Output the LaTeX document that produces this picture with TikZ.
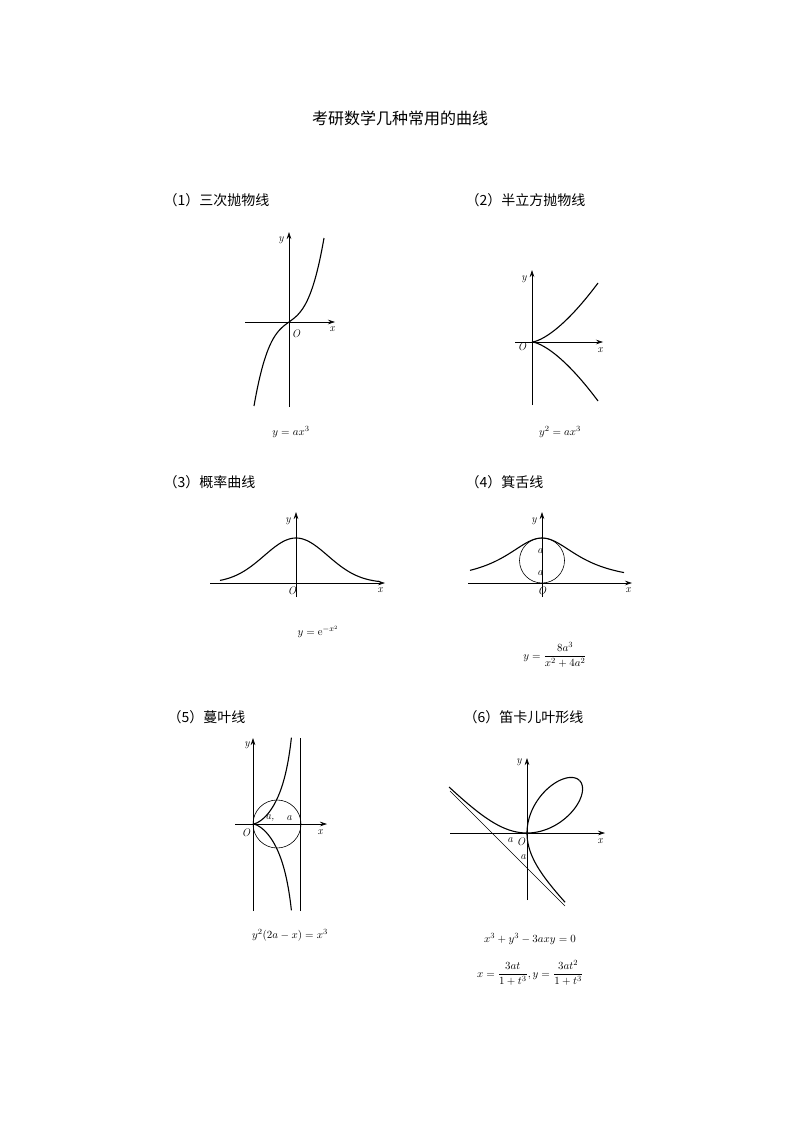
\documentclass[tikz,border=0pt]{standalone}
\usepackage{amsmath}
\usepackage{fontspec}
\newfontfamily\cjk{Noto Sans CJK SC}
\usetikzlibrary{arrows.meta}
\tikzset{
  axis/.style={-{Stealth[length=7pt,width=4.5pt]},line width=0.6pt},
  curve/.style={line width=1.1pt,smooth},
  lbl/.style={font=\fontsize{11}{11}\selectfont\itshape,inner sep=1pt},
  heading/.style={font=\cjk\fontsize{14}{14}\selectfont,anchor=west},
  formula/.style={font=\fontsize{11}{13}\selectfont}
}
\begin{document}
\begin{tikzpicture}[x=1pt,y=-1pt]
\useasboundingbox[fill=white] (0,0) rectangle (800,1131);

\node[font=\cjk\fontsize{16}{16}\selectfont] (title) at (400,118) {考研数学几种常用的曲线};

\node[heading] (h1) at (160,200) {（1）三次抛物线};
\node[heading] (h2) at (462,200) {（2）半立方抛物线};
\node[heading] (h3) at (160,482) {（3）概率曲线};
\node[heading] (h4) at (462,482) {（4）箕舌线};
\node[heading] (h5) at (164,717) {（5）蔓叶线};
\node[heading] (h6) at (460,717) {（6）笛卡儿叶形线};

% (1)
\begin{scope}[shift={(289,322)},yscale=-1]
\draw[axis] (-44,0) -- (46,0);
\draw[axis] (0,-85) -- (0,90);
\draw[curve] plot[domain=-35:35,samples=60] (\x,{84*(0.7*(\x/35)^3+0.3*(\x/35))});
\node[lbl] (y1) at (-8,82) {y};
\node[lbl] (o1) at (7,-12) {O};
\node[lbl] (x1) at (43,-7) {x};
\node[formula] (f1) at (2,-110) {$y=ax^3$};
\end{scope}

% (2)
\begin{scope}[shift={(532,342)},yscale=-1]
\draw[axis] (-17,0) -- (71,0);
\draw[axis] (0,-63) -- (0,72);
\draw[curve] plot[domain=0:66,samples=50] (\x,{59*(\x/66)*sqrt(\x/66)});
\draw[curve] plot[domain=0:66,samples=50] (\x,{-59*(\x/66)*sqrt(\x/66)});
\node[lbl] (y2) at (-8,63) {y};
\node[lbl] (o2) at (-10,-5) {O};
\node[lbl] (x2) at (68,-8) {x};
\node[formula] (f2) at (28,-90) {$y^2=ax^3$};
\end{scope}

% (3)
\begin{scope}[shift={(296,583)},yscale=-1]
\draw[axis] (-86,0) -- (89,0);
\draw[axis] (0,-14) -- (0,71);
\draw[curve] plot[domain=-76:84,samples=80] (\x,{45*exp(-(\x/45)^2)});
\node[lbl] (y3) at (-8,62) {y};
\node[lbl] (o3) at (-4,-8) {O};
\node[lbl] (x3) at (84,-7) {x};
\node[formula] (f3) at (22,-49) {$y=\mathrm{e}^{-x^2}$};
\end{scope}

% (4)
\begin{scope}[shift={(542,583)},yscale=-1]
\draw[axis] (-74,0) -- (90,0);
\draw[axis] (0,-14) -- (0,71);
\draw[line width=0.6pt] (0,22.5) circle (22.5);
\draw[curve] plot[domain=-72:82,samples=80] (\x,{45/((\x/45)^2+1)});
\node[lbl] (a4a) at (-2,32) {a};
\node[lbl] (a4b) at (-2,10) {a};
\node[lbl] (y4) at (-8,62) {y};
\node[lbl] (o4) at (0,-8) {O};
\node[lbl] (x4) at (86,-7) {x};
\node[formula] (f4) at (13,-72) {$y=\dfrac{8a^3}{x^2+4a^2}$};
\end{scope}

% (5)
\begin{scope}[shift={(253,824)},yscale=-1]
\draw[axis] (-18,0) -- (74,0);
\draw[axis] (0,-87) -- (0,86);
\draw[line width=0.6pt] (47,-87) -- (47,86);
\draw[line width=0.6pt] (24,0) circle (24);
\draw[curve] plot[domain=0:1.67,samples=60] ({23*\x},{23*sqrt(\x^3/(2-\x))});
\draw[curve] plot[domain=0:1.67,samples=60] ({23*\x},{-23*sqrt(\x^3/(2-\x))});
\node[lbl] (a5a) at (17,6) {a,};
\node[lbl] (a5b) at (36,6) {a};
\node[lbl] (y5) at (-6,79) {y};
\node[lbl] (o5) at (-7,-9) {O};
\node[lbl] (x5) at (67,-8) {x};
\node[formula] (f5) at (37,-111) {$y^2(2a-x)=x^3$};
\end{scope}

% (6)
\begin{scope}[shift={(527,833)},yscale=-1]
\draw[axis] (-77,0) -- (78,0);
\draw[axis] (0,-67) -- (0,75);
\draw[line width=0.6pt] (-77,42) -- (38,-73);
\draw[curve] plot[domain=0:1,samples=50] ({105*\x/(1+(\x)^3)},{105*(\x)^2/(1+(\x)^3)});
\draw[curve] plot[domain=0:1,samples=50] ({105*(\x)^2/(1+(\x)^3)},{105*\x/(1+(\x)^3)});
\draw[curve] plot[domain=-0.59:0,samples=50] ({105*(\x)/(1+(\x)^3)},{105*(\x)^2/(1+(\x)^3)});
\draw[curve] plot[domain=-0.55:0,samples=50] ({105*(\x)^2/(1+(\x)^3)},{105*(\x)/(1+(\x)^3)});
\node[lbl] (a6a) at (-17,-7) {a};
\node[lbl] (o6) at (-6,-9) {O};
\node[lbl] (a6b) at (-4,-24) {a};
\node[lbl] (y6) at (-8,71) {y};
\node[lbl] (x6) at (73,-8) {x};
\node[formula] (f6a) at (3,-106) {$x^3+y^3-3axy=0$};
\node[formula] (f6b) at (3,-140) {$x=\dfrac{3at}{1+t^3},y=\dfrac{3at^2}{1+t^3}$};
\end{scope}
\end{tikzpicture}
\end{document}
